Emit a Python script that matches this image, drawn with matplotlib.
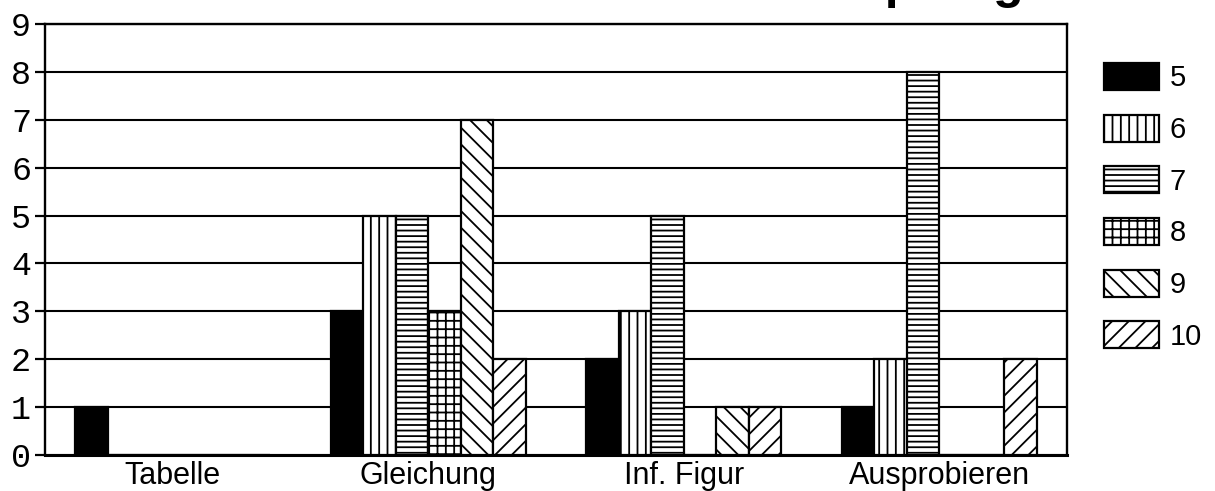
import numpy as np
import matplotlib.pyplot as plt

# Lösungsweg je Klassenstufe (Anzahl Schüler)
categories = ['Tabelle', 'Gleichung', 'Inf. Figur', 'Ausprobieren']
grades = ['5', '6', '7', '8', '9', '10']
klasse_5 = [1, 3, 2, 1]
klasse_6 = [0, 5, 3, 2]
klasse_7 = [0, 5, 5, 8]
klasse_8 = [0, 3, 0, 0]
klasse_9 = [0, 7, 1, 0]
klasse_10 = [0, 2, 1, 2]
series = [klasse_5, klasse_6, klasse_7, klasse_8, klasse_9, klasse_10]
yticks = list(range(0, 10))

hatches = [None, '||', '---', '++', '\\\\', '//']

plt.rcParams['hatch.linewidth'] = 1.3
plt.rcParams['hatch.color'] = 'black'

fig = plt.figure(figsize=(12.15, 4.91), dpi=100)
ax = fig.add_axes([45 / 1215, 1 - 455 / 491, 1022 / 1215, 431 / 491])

x = np.arange(len(categories))
w = 0.127
for i, (vals, h) in enumerate(zip(series, hatches)):
    pos = x + (i - 2.5) * w
    if h is None:
        ax.bar(pos, vals, w, color='black', edgecolor='black', linewidth=1.6,
               label=grades[i], zorder=3)
    else:
        ax.bar(pos, vals, w, color='white', edgecolor='black', linewidth=1.6,
               hatch=h, label=grades[i], zorder=3)

ax.set_xlim(-0.5, 3.5)
ax.set_ylim(0, 9)
ax.set_yticks(yticks)
ax.set_yticklabels([str(t) for t in yticks], family='Liberation Mono', fontsize=24)
ax.set_xticks(x)
ax.set_xticklabels(categories, family='Liberation Sans', fontsize=22)
ax.tick_params(axis='x', length=0, pad=4)
ax.tick_params(axis='y', length=7, width=1.6, pad=3)
ax.yaxis.grid(True, color='black', linewidth=1.5, zorder=1)
ax.set_axisbelow(True)
for s in ax.spines.values():
    s.set_linewidth(1.7)
ax.spines['bottom'].set_linewidth(2.2)

fig.legend(loc='upper left', bbox_to_anchor=(1104 / 1215, 1 - 63 / 491),
           frameon=False, prop={'family': 'Liberation Sans', 'size': 21},
           handlelength=1.9, handleheight=1.05, labelspacing=0.76,
           handletextpad=0.35, borderpad=0, borderaxespad=0)

fig.text(1024 / 1215, 1.005, 'Methoden der Schüler bei der Verknüpfung',
         ha='right', va='baseline', fontsize=36, fontweight='bold',
         family='Liberation Sans')

fig.savefig('out.png', dpi=100)
